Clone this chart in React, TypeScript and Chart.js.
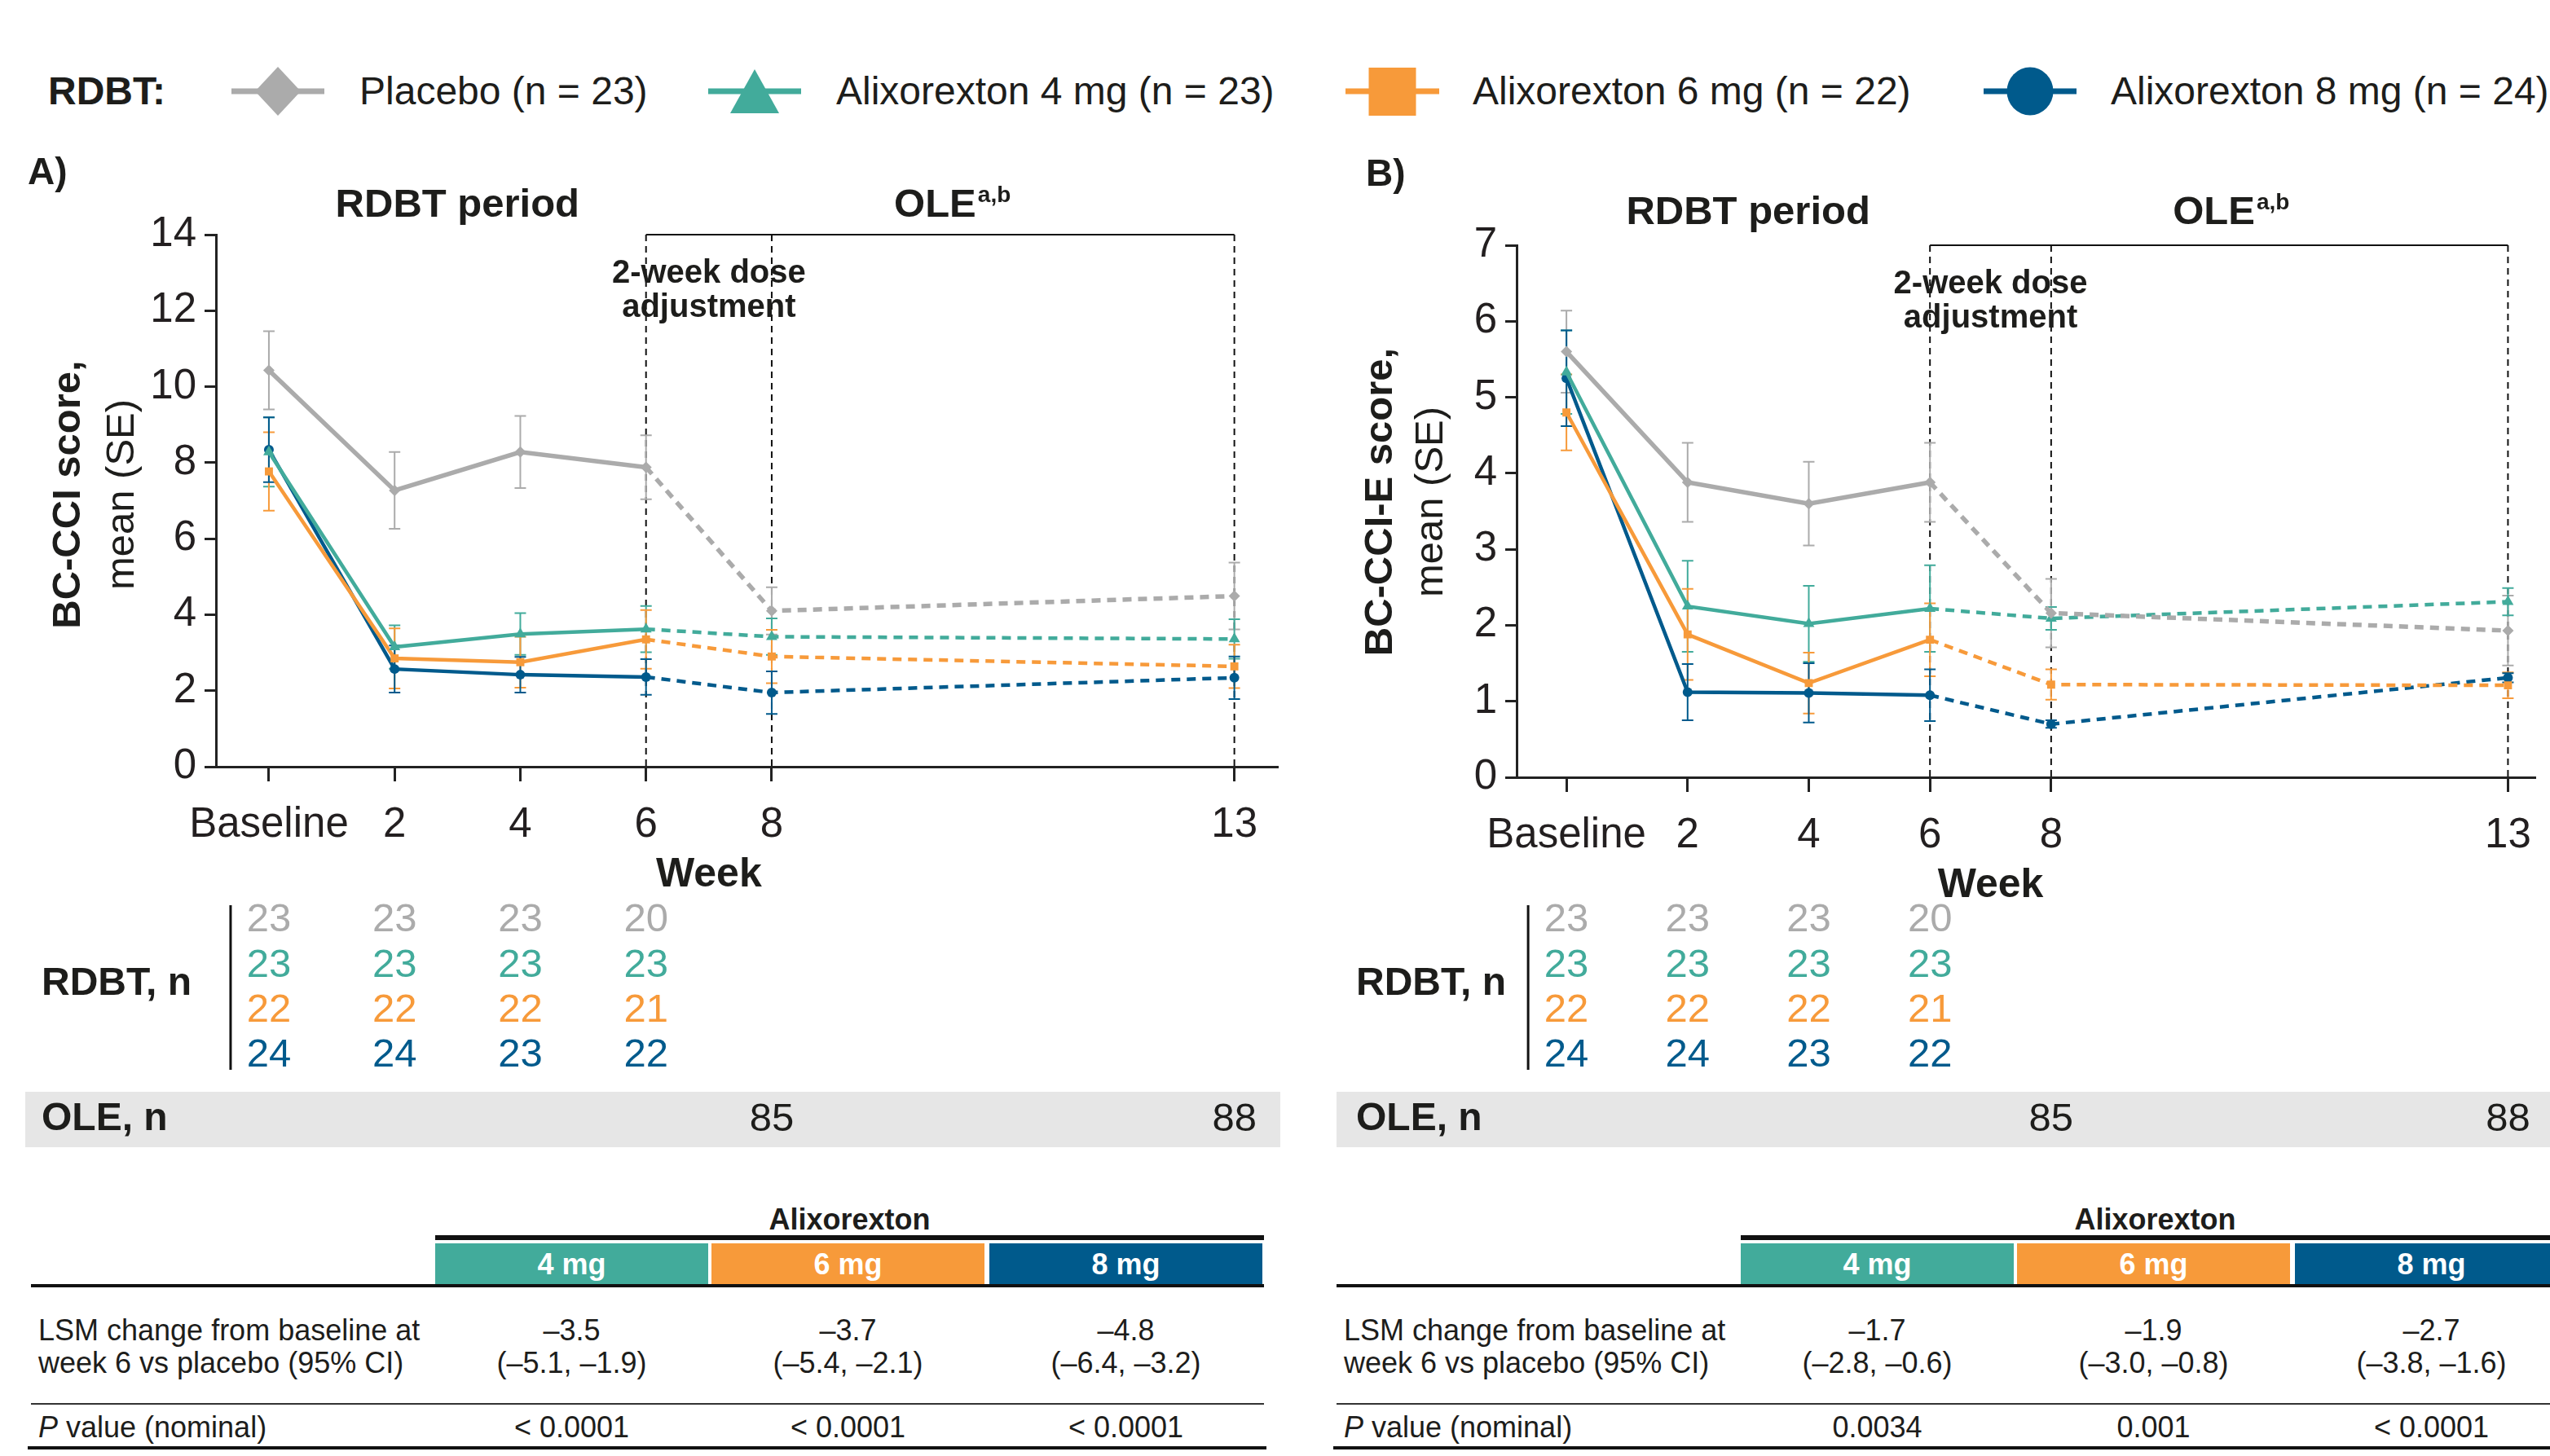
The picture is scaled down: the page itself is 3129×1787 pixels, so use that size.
import React, { useEffect, useRef } from "react";
import { Chart, registerables } from "chart.js";

Chart.register(...registerables);

const FONT = '"Liberation Sans", Arial, Helvetica, sans-serif';
const INK = "#1d1d1b";
const GRAY = "#ABABAB";
const TEAL = "#42AB9B";
const ORANGE = "#F79A3A";
const BLUE = "#005A8C";

// ---------- data ----------
const weekLabels = ["Baseline", "2", "4", "6", "8", "13"];
const weekSlotsA = [0, 1, 2, 3, 4, 7.68];
const weekSlotsB = [0, 1, 2, 3, 4, 7.77];

const groupLabels = [
  "Placebo (n = 23)",
  "Alixorexton 4 mg (n = 23)",
  "Alixorexton 6 mg (n = 22)",
  "Alixorexton 8 mg (n = 24)",
];
const groupColors = [GRAY, TEAL, ORANGE, BLUE];
const groupShapes = ["rectRot", "triangle", "rect", "circle"];

// Panel A: BC-CCI score, mean (SE)
const cciPlacebo = [10.43, 7.27, 8.28, 7.88, 4.1, 4.49];
const cciPlaceboSE = [1.03, 1.01, 0.95, 0.84, 0.62, 0.88];
const cci4mg = [8.28, 3.15, 3.49, 3.62, 3.42, 3.36];
const cci4mgSE = [0.91, 0.57, 0.55, 0.61, 0.48, 0.52];
const cci6mg = [7.77, 2.85, 2.75, 3.35, 2.9, 2.64];
const cci6mgSE = [1.03, 0.79, 0.67, 0.77, 0.7, 0.57];
const cci8mg = [8.34, 2.57, 2.42, 2.36, 1.95, 2.34];
const cci8mgSE = [0.85, 0.62, 0.47, 0.47, 0.56, 0.56];

// Panel B: BC-CCI-E score, mean (SE)
const ccePlacebo = [5.6, 3.88, 3.6, 3.88, 2.16, 1.93];
const ccePlaceboSE = [0.54, 0.52, 0.55, 0.52, 0.45, 0.46];
const cce4mg = [5.33, 2.25, 2.02, 2.22, 2.09, 2.31];
const cce4mgSE = [0.55, 0.6, 0.5, 0.57, 0.15, 0.18];
const cce6mg = [4.8, 1.88, 1.24, 1.81, 1.22, 1.21];
const cce6mgSE = [0.5, 0.6, 0.4, 0.48, 0.2, 0.17];
const cce8mg = [5.25, 1.12, 1.11, 1.08, 0.7, 1.31];
const cce8mgSE = [0.63, 0.37, 0.39, 0.34, 0.05, 0.06];

// numbers at risk
const rdbtNPlacebo = [23, 23, 23, 20];
const rdbtN4mg = [23, 23, 23, 23];
const rdbtN6mg = [22, 22, 22, 21];
const rdbtN8mg = [24, 24, 23, 22];
const oleN = [85, 88];

// LSM tables
const doseLabels = ["4 mg", "6 mg", "8 mg"];
const lsmA = ["\u20133.5", "\u20133.7", "\u20134.8"];
const ciA = ["(\u20135.1, \u20131.9)", "(\u20135.4, \u20132.1)", "(\u20136.4, \u20133.2)"];
const pA = ["< 0.0001", "< 0.0001", "< 0.0001"];
const lsmB = ["\u20131.7", "\u20131.9", "\u20132.7"];
const ciB = ["(\u20132.8, \u20130.6)", "(\u20133.0, \u20130.8)", "(\u20133.8, \u20131.6)"];
const pB = ["0.0034", "0.001", "< 0.0001"];

// ---------- panel config ----------
type PanelCfg = {
  left: number;
  top: number;
  width: number;
  height: number;
  yAxisWidth: number;
  padTop: number;
  padRight: number;
  xAxisHeight: number;
  xMin: number;
  xMax: number;
  yMax: number;
  yStep: number;
  slots: number[];
  means: number[][];
  ses: number[][];
  panelLabel: string;
  labelX: number;
  labelY: number;
  yTitle1: string;
  yTitle2: string;
  yT1X: number;
  yT2X: number;
  yTY: number;
  hdrBase: number;
  nLabelX: number;
  bandX: number;
  bandRight: number;
};

const panelA: PanelCfg = {
  left: 0,
  top: 160,
  width: 1600,
  height: 1280,
  yAxisWidth: 265,
  padTop: 128,
  padRight: 32,
  xAxisHeight: 1280 - 781,
  xMin: -0.421,
  xMax: 8.026,
  yMax: 14,
  yStep: 2,
  slots: weekSlotsA,
  means: [cciPlacebo, cci4mg, cci6mg, cci8mg],
  ses: [cciPlaceboSE, cci4mgSE, cci6mgSE, cci8mgSE],
  panelLabel: "A)",
  labelX: 34,
  labelY: 53,
  yTitle1: "BC-CCI score,",
  yTitle2: "mean (SE)",
  yT1X: 84,
  yT2X: 150,
  yTY: 447,
  hdrBase: 106,
  nLabelX: 51,
  bandX: 31,
  bandRight: 1571,
};

const panelB: PanelCfg = {
  left: 1600,
  top: 160,
  width: 1529,
  height: 1280,
  yAxisWidth: 261,
  padTop: 141,
  padRight: 0,
  xAxisHeight: 1280 - 794,
  xMin: -0.411,
  xMax: 8.0,
  yMax: 7,
  yStep: 1,
  slots: weekSlotsB,
  means: [ccePlacebo, cce4mg, cce6mg, cce8mg],
  ses: [ccePlaceboSE, cce4mgSE, cce6mgSE, cce8mgSE],
  panelLabel: "B)",
  labelX: 76,
  labelY: 55,
  yTitle1: "BC-CCI-E score,",
  yTitle2: "mean (SE)",
  yT1X: 94,
  yT2X: 156,
  yTY: 456,
  hdrBase: 115,
  nLabelX: 64,
  bandX: 40,
  bandRight: 1529,
};

const rdbtRows = [rdbtNPlacebo, rdbtN4mg, rdbtN6mg, rdbtN8mg];
const nRowY = [969, 1025, 1080, 1135];

function makeDecor(cfg: PanelCfg) {
  return {
    id: "decor",
    beforeDatasetsDraw(chart: any) {
      const { ctx, chartArea, scales } = chart;
      const xs = scales.x;
      const ys = scales.y;
      const px = (k: number) => xs.getPixelForValue(cfg.slots[k]);
      ctx.save();
      ctx.strokeStyle = "#111";
      ctx.lineWidth = 2;
      ctx.beginPath();
      ctx.moveTo(px(3), chartArea.top);
      ctx.lineTo(px(5), chartArea.top);
      ctx.stroke();
      ctx.setLineDash([8, 6]);
      for (const k of [3, 4, 5]) {
        ctx.beginPath();
        ctx.moveTo(px(k), chartArea.top);
        ctx.lineTo(px(k), chartArea.bottom);
        ctx.stroke();
      }
      ctx.setLineDash([]);
      // error bars
      chart.data.datasets.forEach((ds: any, i: number) => {
        const se = cfg.ses[i];
        ctx.strokeStyle = ds.borderColor;
        ctx.lineWidth = 2;
        ds.data.forEach((p: any, j: number) => {
          const x = xs.getPixelForValue(p.x);
          const y1 = ys.getPixelForValue(p.y + se[j]);
          const y2 = ys.getPixelForValue(p.y - se[j]);
          ctx.beginPath();
          ctx.moveTo(x, y1);
          ctx.lineTo(x, y2);
          ctx.moveTo(x - 7, y1);
          ctx.lineTo(x + 7, y1);
          ctx.moveTo(x - 7, y2);
          ctx.lineTo(x + 7, y2);
          ctx.stroke();
        });
      });
      ctx.restore();
    },
    afterDraw(chart: any) {
      const { ctx, chartArea, scales } = chart;
      const xs = scales.x;
      const px = (k: number) => xs.getPixelForValue(cfg.slots[k]);
      ctx.save();
      ctx.fillStyle = INK;
      ctx.textBaseline = "middle";
      ctx.textAlign = "left";
      ctx.font = `bold 46px ${FONT}`;
      ctx.fillText(cfg.panelLabel, cfg.labelX, cfg.labelY);

      // period headers
      ctx.textBaseline = "alphabetic";
      ctx.textAlign = "center";
      ctx.font = `bold 49px ${FONT}`;
      ctx.fillText("RDBT period", (px(0) + px(3)) / 2, cfg.hdrBase);
      const oleW = ctx.measureText("OLE").width;
      ctx.font = `bold 28px ${FONT}`;
      const supW = ctx.measureText("a,b").width;
      const oleStart = (px(3) + px(5)) / 2 + 15 - (oleW + supW + 2) / 2;
      ctx.textAlign = "left";
      ctx.font = `bold 49px ${FONT}`;
      ctx.fillText("OLE", oleStart, cfg.hdrBase);
      ctx.font = `bold 28px ${FONT}`;
      ctx.fillText("a,b", oleStart + oleW + 2, cfg.hdrBase - 18);

      // dose adjustment
      ctx.textAlign = "center";
      ctx.font = `bold 40px ${FONT}`;
      const mid34 = (px(3) + px(4)) / 2;
      ctx.fillText("2-week dose", mid34, chartArea.top + 59);
      ctx.fillText("adjustment", mid34, chartArea.top + 101);

      // y title
      ctx.save();
      ctx.translate(cfg.yT1X, cfg.yTY);
      ctx.rotate(-Math.PI / 2);
      ctx.textBaseline = "middle";
      ctx.textAlign = "center";
      ctx.font = `bold 49px ${FONT}`;
      ctx.fillText(cfg.yTitle1, 0, 0);
      ctx.restore();
      ctx.save();
      ctx.translate(cfg.yT2X, cfg.yTY);
      ctx.rotate(-Math.PI / 2);
      ctx.textBaseline = "middle";
      ctx.textAlign = "center";
      ctx.font = `49px ${FONT}`;
      ctx.fillText(cfg.yTitle2, 0, 0);
      ctx.restore();

      // x title
      ctx.textBaseline = "middle";
      ctx.textAlign = "center";
      ctx.font = `bold 50px ${FONT}`;
      ctx.fillText("Week", mid34, chartArea.bottom + 133);

      // RDBT n table
      ctx.textAlign = "left";
      ctx.font = `bold 48px ${FONT}`;
      ctx.fillText("RDBT, n", cfg.nLabelX, 1048);
      ctx.strokeStyle = "#111";
      ctx.lineWidth = 3;
      ctx.beginPath();
      ctx.moveTo(px(0) - 47, 951);
      ctx.lineTo(px(0) - 47, 1153);
      ctx.stroke();
      ctx.textAlign = "center";
      ctx.font = `49px ${FONT}`;
      rdbtRows.forEach((row, i) => {
        ctx.fillStyle = groupColors[i];
        row.forEach((n, j) => ctx.fillText(String(n), px(j), nRowY[i]));
      });

      // OLE band
      ctx.fillStyle = "#E6E6E6";
      ctx.fillRect(cfg.bandX, 1180, cfg.bandRight - cfg.bandX, 68);
      ctx.fillStyle = INK;
      ctx.textAlign = "left";
      ctx.font = `bold 48px ${FONT}`;
      ctx.fillText("OLE, n", cfg.nLabelX, 1214);
      ctx.textAlign = "center";
      ctx.font = `49px ${FONT}`;
      ctx.fillText(String(oleN[0]), px(4), 1214);
      ctx.fillText(String(oleN[1]), px(5), 1214);
      ctx.restore();
    },
  };
}

function Panel({ cfg }: { cfg: PanelCfg }) {
  const ref = useRef<HTMLCanvasElement>(null);
  useEffect(() => {
    const canvas = ref.current!;
    const datasets = cfg.means.map((vals, i) => ({
      label: groupLabels[i],
      data: vals.map((v, j) => ({ x: cfg.slots[j], y: v })),
      borderColor: groupColors[i],
      backgroundColor: groupColors[i],
      borderWidth: i === 0 ? 5.5 : 4.5,
      pointStyle: groupShapes[i],
      pointRadius: i === 3 ? 6 : i === 1 ? 8 : 7,
      pointBorderWidth: 0,
      pointBackgroundColor: groupColors[i],
      tension: 0,
      segment: {
        borderDash: (c: any) => (c.p0DataIndex >= 3 ? [11, 8] : []),
      },
    }));
    const chart = new Chart(canvas, {
      type: "line",
      data: { datasets },
      plugins: [makeDecor(cfg)],
      options: {
        animation: false,
        responsive: false,
        devicePixelRatio: 1,
        layout: { padding: { left: 0, top: cfg.padTop, right: cfg.padRight, bottom: 0 } },
        plugins: { legend: { display: false }, tooltip: { enabled: false } },
        scales: {
          x: {
            type: "linear",
            min: cfg.xMin,
            max: cfg.xMax,
            afterBuildTicks: (s: any) => {
              s.ticks = cfg.slots.map((v) => ({ value: v }));
            },
            afterFit: (s: any) => {
              s.height = cfg.xAxisHeight;
            },
            ticks: {
              autoSkip: false,
              maxRotation: 0,
              padding: 23,
              color: "#231F20",
              font: { family: FONT, size: 51 },
              callback: (_v: any, i: number) => weekLabels[i],
            },
            grid: {
              drawOnChartArea: false,
              drawTicks: true,
              tickLength: 18,
              tickWidth: 3,
              tickColor: "#222",
            },
            border: { display: true, color: "#222", width: 3 },
          },
          y: {
            min: 0,
            max: cfg.yMax,
            afterFit: (s: any) => {
              s.width = cfg.yAxisWidth;
            },
            ticks: {
              stepSize: cfg.yStep,
              padding: 10,
              color: "#231F20",
              font: { family: FONT, size: 51 },
            },
            grid: {
              drawOnChartArea: false,
              drawTicks: true,
              tickLength: 14,
              tickWidth: 3,
              tickColor: "#222",
            },
            border: { display: true, color: "#222", width: 3 },
          },
        },
      } as any,
    });
    return () => chart.destroy();
  }, [cfg]);
  return (
    <canvas
      ref={ref}
      width={cfg.width}
      height={cfg.height}
      style={{ position: "absolute", left: cfg.left, top: cfg.top, width: cfg.width, height: cfg.height }}
    />
  );
}

// ---------- legend ----------
const legendLayout = [
  { lineX: 284, lineW: 114, textX: 441 },
  { lineX: 869, lineW: 114, textX: 1026 },
  { lineX: 1651, lineW: 115, textX: 1807 },
  { lineX: 2434, lineW: 114, textX: 2590 },
];

function LegendMarker({ i, w }: { i: number; w: number }) {
  const c = groupColors[i];
  const cx = w / 2;
  let shape: any = null;
  if (i === 0) shape = <polygon points={`${cx},2 ${cx + 28},32 ${cx},62 ${cx - 28},32`} fill={c} />;
  if (i === 1) shape = <polygon points={`${cx},5 ${cx + 30},59 ${cx - 30},59`} fill={c} />;
  if (i === 2) shape = <rect x={cx - 29} y={3} width={58} height={59} fill={c} />;
  if (i === 3) shape = <ellipse cx={cx} cy={32} rx={28.5} ry={29.5} fill={c} />;
  return (
    <svg width={w} height={64} style={{ display: "block" }}>
      <rect x={0} y={28.5} width={w} height={7} fill={c} />
      {shape}
    </svg>
  );
}

function Legend() {
  return (
    <>
      <div style={{ position: "absolute", left: 59, top: 88, font: `bold 48px ${FONT}`, lineHeight: "48px", color: INK }}>
        RDBT:
      </div>
      {legendLayout.map((l, i) => (
        <React.Fragment key={i}>
          <div style={{ position: "absolute", left: l.lineX, top: 80 }}>
            <LegendMarker i={i} w={l.lineW} />
          </div>
          <div
            style={{
              position: "absolute",
              left: l.textX,
              top: 88,
              font: `48px ${FONT}`,
              lineHeight: "48px",
              color: INK,
              whiteSpace: "nowrap",
            }}
          >
            {groupLabels[i]}
          </div>
        </React.Fragment>
      ))}
    </>
  );
}

// ---------- LSM table ----------
function LsmTable({ off, lsm, ci, p }: { off: number; lsm: string[]; ci: string[]; p: string[] }) {
  const cellLeft = [534, 873, 1214];
  const cellW = 335;
  const fillColors = [TEAL, ORANGE, BLUE];
  const txt: any = { position: "absolute", font: `36px ${FONT}`, color: INK, whiteSpace: "nowrap", lineHeight: "36px" };
  return (
    <>
      <div style={{ ...txt, left: off + 534, width: 1017, top: 1479, textAlign: "center", fontWeight: "bold" }}>Alixorexton</div>
      <div style={{ position: "absolute", left: off + 534, top: 1516, width: 1017, height: 6, background: "#111" }} />
      {cellLeft.map((cl, k) => (
        <div
          key={k}
          style={{
            position: "absolute",
            left: off + cl,
            top: 1526,
            width: cellW,
            height: 51,
            background: fillColors[k],
            color: "#fff",
            font: `bold 36px ${FONT}`,
            lineHeight: "51px",
            textAlign: "center",
          }}
        >
          {doseLabels[k]}
        </div>
      ))}
      <div style={{ position: "absolute", left: off + 38, top: 1576, width: 1513, height: 4, background: "#111" }} />
      <div style={{ ...txt, left: off + 47, top: 1615 }}>LSM change from baseline at</div>
      <div style={{ ...txt, left: off + 47, top: 1655 }}>week 6 vs placebo (95% CI)</div>
      {cellLeft.map((cl, k) => (
        <React.Fragment key={k}>
          <div style={{ ...txt, left: off + cl, width: cellW, top: 1615, textAlign: "center" }}>{lsm[k]}</div>
          <div style={{ ...txt, left: off + cl, width: cellW, top: 1655, textAlign: "center" }}>{ci[k]}</div>
          <div style={{ ...txt, left: off + cl, width: cellW, top: 1734, textAlign: "center" }}>{p[k]}</div>
        </React.Fragment>
      ))}
      <div style={{ position: "absolute", left: off + 38, top: 1722, width: 1513, height: 2, background: "#333" }} />
      <div style={{ ...txt, left: off + 47, top: 1734 }}>
        <i>P</i> value (nominal)
      </div>
      <div style={{ position: "absolute", left: off + 34, top: 1775, width: 1520, height: 4, background: "#111" }} />
    </>
  );
}

export default function App() {
  useEffect(() => {
    document.body.style.margin = "0";
    document.body.style.overflow = "hidden";
  }, []);
  return (
    <div
      style={{
        position: "absolute",
        left: 0,
        top: 0,
        width: 3129,
        height: 1787,
        background: "#fff",
        overflow: "hidden",
        fontFamily: FONT,
      }}
    >
      <Legend />
      <Panel cfg={panelA} />
      <Panel cfg={panelB} />
      <LsmTable off={0} lsm={lsmA} ci={ciA} p={pA} />
      <LsmTable off={1602} lsm={lsmB} ci={ciB} p={pB} />
    </div>
  );
}
